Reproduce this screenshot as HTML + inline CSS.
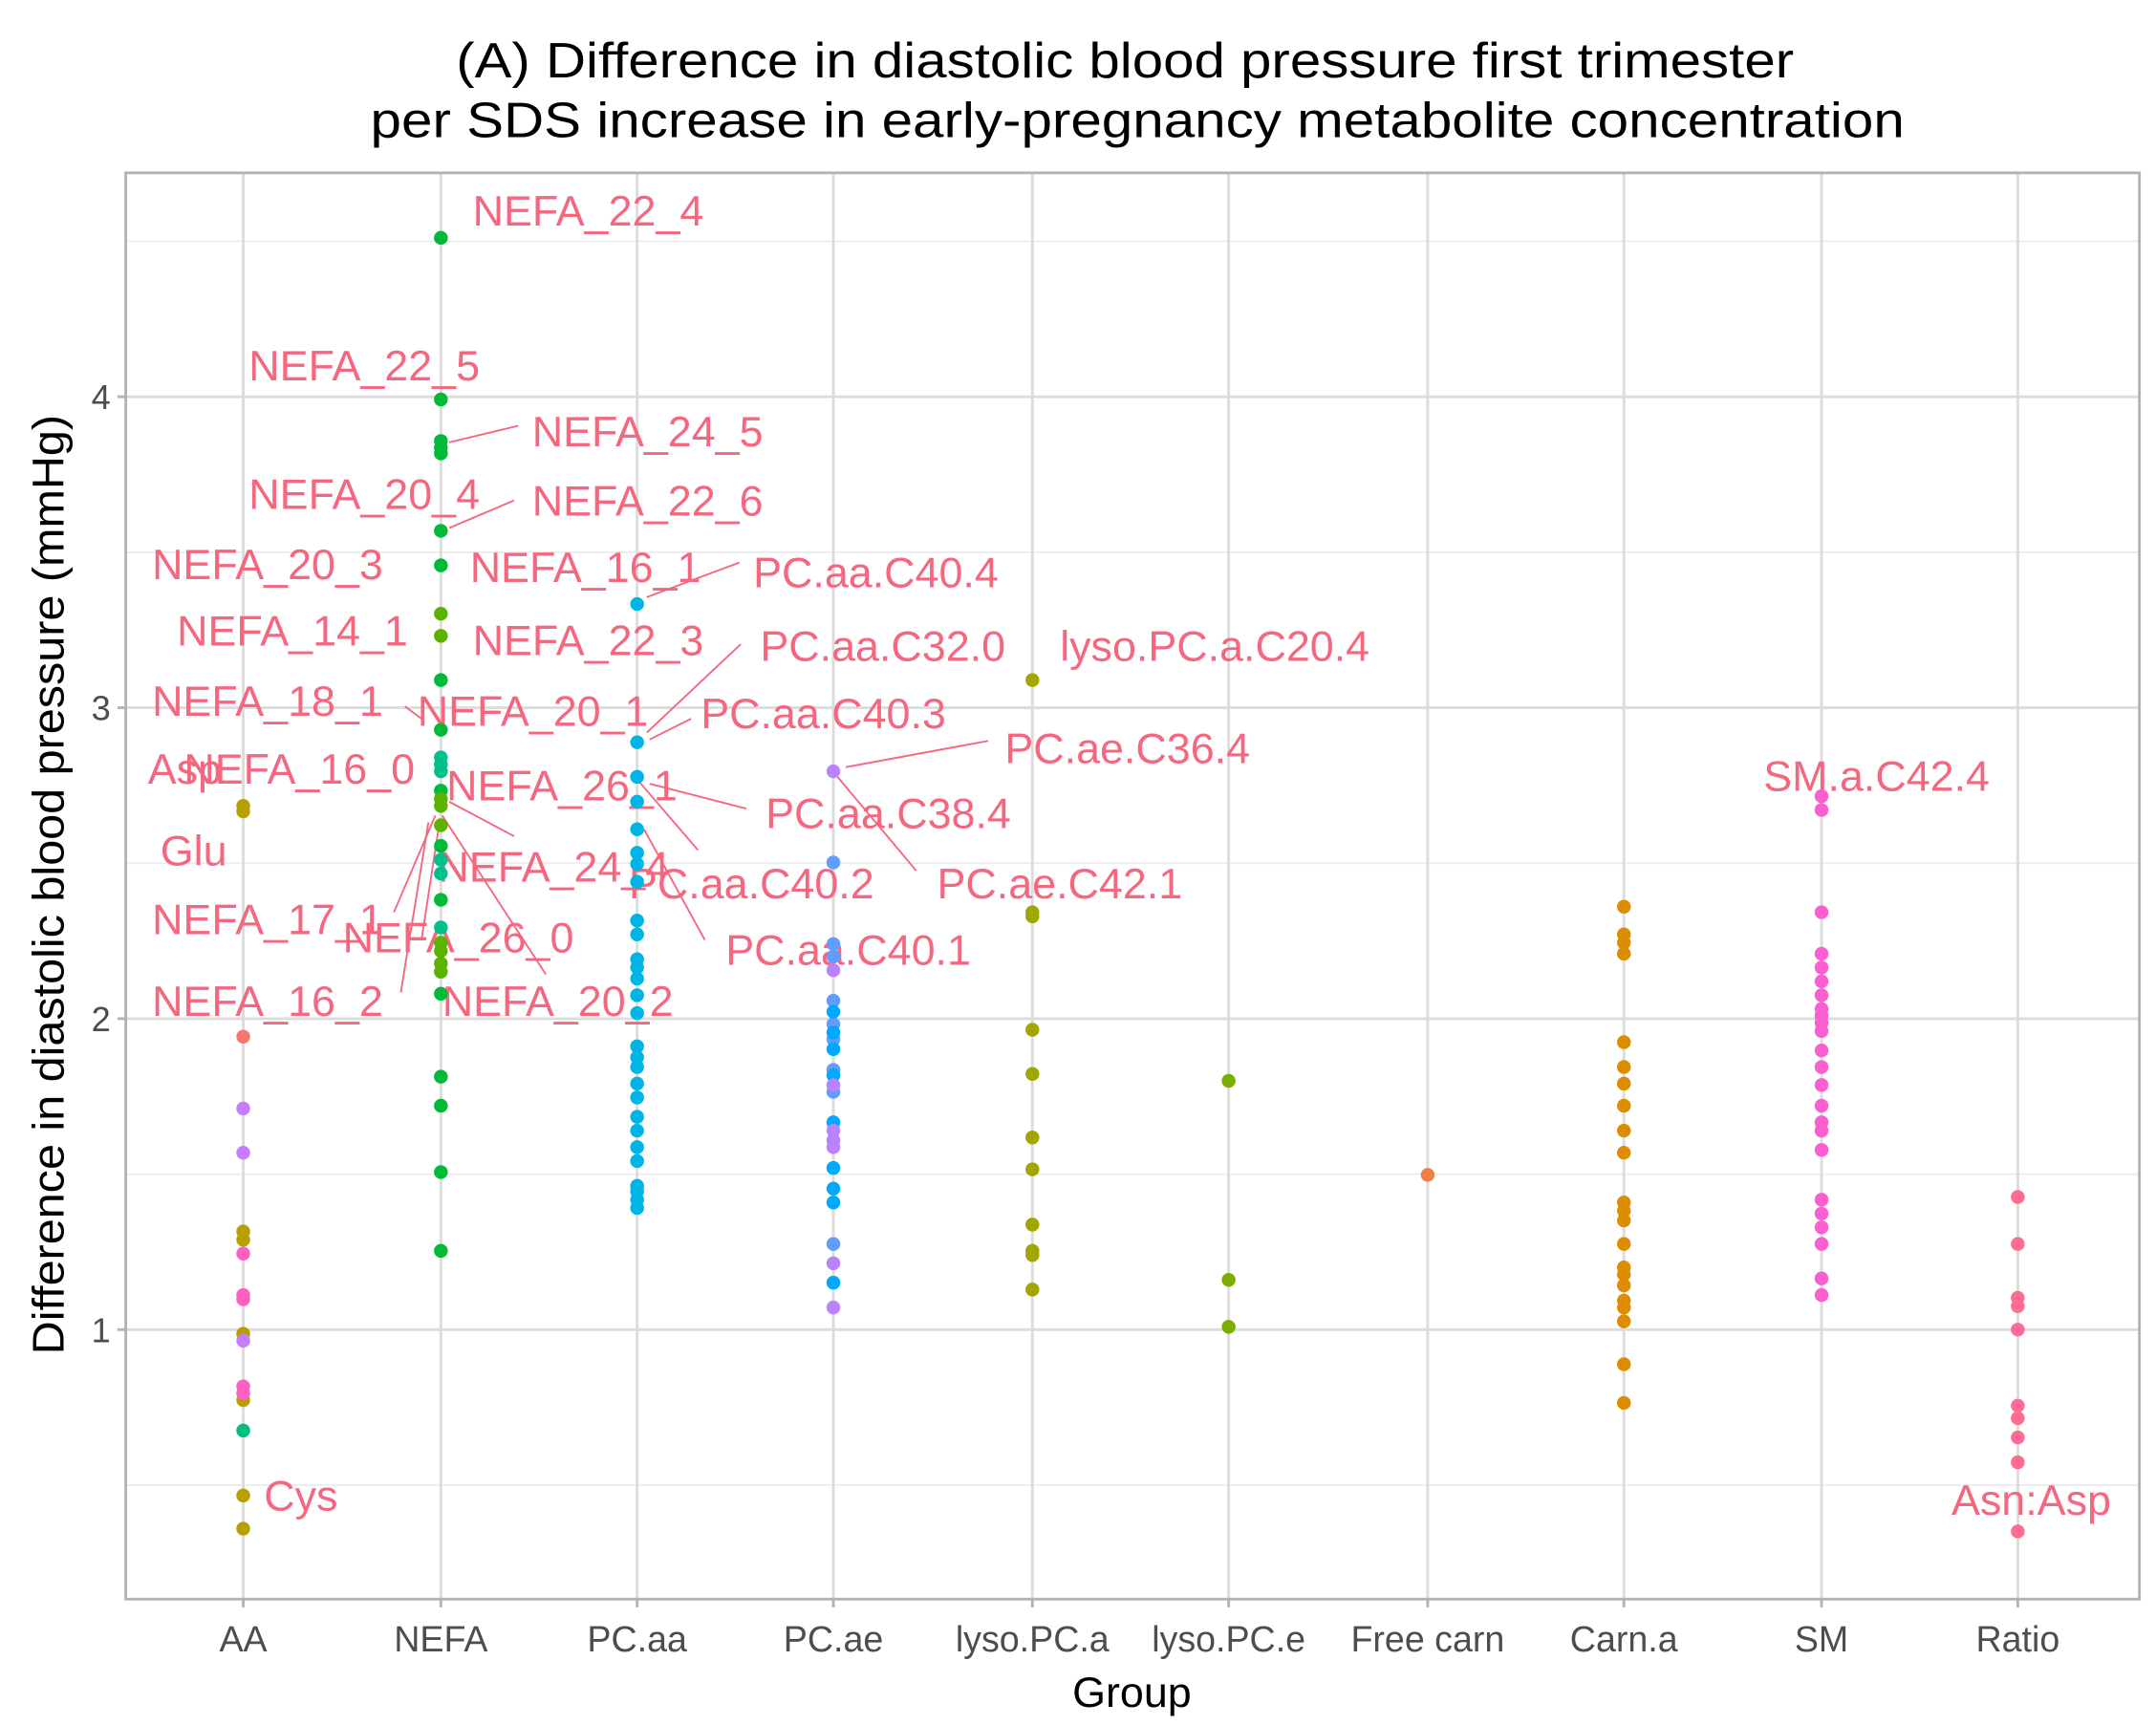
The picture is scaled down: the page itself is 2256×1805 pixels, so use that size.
<!DOCTYPE html>
<html><head><meta charset="utf-8"><style>
html,body{margin:0;padding:0;background:#fff;}
svg{display:block;}
text{font-family:"Liberation Sans",Arial,sans-serif;}
</style></head><body>
<svg width="2256" height="1805" viewBox="0 0 1560 1248" xmlns="http://www.w3.org/2000/svg">
<rect width="1560" height="1248" fill="#fff"/>
<text x="330" y="56" font-size="36" textLength="968" lengthAdjust="spacingAndGlyphs" fill="#000">(A) Difference in diastolic blood pressure first trimester</text>
<text x="268" y="99" font-size="36" textLength="1110" lengthAdjust="spacingAndGlyphs" fill="#000">per SDS increase in early-pregnancy metabolite concentration</text>
<g stroke="#ebebeb" stroke-width="1.2">
<line x1="91" x2="1548" y1="174.5" y2="174.5"/><line x1="91" x2="1548" y1="399.5" y2="399.5"/><line x1="91" x2="1548" y1="624.5" y2="624.5"/><line x1="91" x2="1548" y1="849.5" y2="849.5"/><line x1="91" x2="1548" y1="1074.5" y2="1074.5"/>
</g>
<g stroke="#dcdcdc" stroke-width="2">
<line x1="91" x2="1548" y1="287" y2="287"/><line x1="91" x2="1548" y1="512" y2="512"/><line x1="91" x2="1548" y1="737" y2="737"/><line x1="91" x2="1548" y1="962" y2="962"/>
<line y1="125" y2="1157" x1="176" x2="176"/><line y1="125" y2="1157" x1="319" x2="319"/><line y1="125" y2="1157" x1="461" x2="461"/><line y1="125" y2="1157" x1="603" x2="603"/><line y1="125" y2="1157" x1="747" x2="747"/><line y1="125" y2="1157" x1="889" x2="889"/><line y1="125" y2="1157" x1="1033" x2="1033"/><line y1="125" y2="1157" x1="1175" x2="1175"/><line y1="125" y2="1157" x1="1318" x2="1318"/><line y1="125" y2="1157" x1="1460" x2="1460"/>
</g>
<rect x="91" y="125" width="1457" height="1032" fill="none" stroke="#b3b3b3" stroke-width="2"/>
<g stroke="#b3b3b3" stroke-width="2">
<line x1="85" x2="91" y1="287" y2="287"/><line x1="85" x2="91" y1="512" y2="512"/><line x1="85" x2="91" y1="737" y2="737"/><line x1="85" x2="91" y1="962" y2="962"/>
<line y1="1157" y2="1163" x1="176" x2="176"/><line y1="1157" y2="1163" x1="319" x2="319"/><line y1="1157" y2="1163" x1="461" x2="461"/><line y1="1157" y2="1163" x1="603" x2="603"/><line y1="1157" y2="1163" x1="747" x2="747"/><line y1="1157" y2="1163" x1="889" x2="889"/><line y1="1157" y2="1163" x1="1033" x2="1033"/><line y1="1157" y2="1163" x1="1175" x2="1175"/><line y1="1157" y2="1163" x1="1318" x2="1318"/><line y1="1157" y2="1163" x1="1460" x2="1460"/>
</g>
<g font-size="25" fill="#4d4d4d" text-anchor="end">
<text x="80" y="296">4</text><text x="80" y="521">3</text><text x="80" y="746">2</text><text x="80" y="971">1</text>
</g>
<g font-size="26" fill="#4d4d4d" text-anchor="middle">
<text x="176" y="1195">AA</text><text x="319" y="1195">NEFA</text><text x="461" y="1195">PC.aa</text><text x="603" y="1195">PC.ae</text><text x="747" y="1195">lyso.PC.a</text><text x="889" y="1195">lyso.PC.e</text><text x="1033" y="1195">Free carn</text><text x="1175" y="1195">Carn.a</text><text x="1318" y="1195">SM</text><text x="1460" y="1195">Ratio</text>
</g>
<text x="819" y="1235" font-size="31" text-anchor="middle" fill="#000">Group</text>
<text transform="translate(46,640) rotate(-90)" font-size="32" text-anchor="middle" textLength="680" lengthAdjust="spacingAndGlyphs" fill="#000">Difference in diastolic blood pressure (mmHg)</text>

<g stroke="#F5677F" stroke-width="1.3" fill="none">
<line x1="325" y1="320" x2="375" y2="308"/>
<line x1="325" y1="382" x2="372" y2="362"/>
<line x1="468" y1="432" x2="535" y2="407"/>
<line x1="468" y1="530" x2="536" y2="466"/>
<line x1="293" y1="511" x2="305" y2="520"/>
<line x1="470" y1="535" x2="500" y2="520"/>
<line x1="612" y1="555" x2="715" y2="536"/>
<line x1="470" y1="567" x2="540" y2="585"/>
<line x1="606" y1="562" x2="663" y2="630"/>
<line x1="466" y1="600" x2="510" y2="680"/>
<line x1="462" y1="565" x2="505" y2="615"/>
<line x1="325" y1="580" x2="372" y2="605"/>
<line x1="320" y1="590" x2="395" y2="705"/>
<line x1="315" y1="590" x2="285" y2="660"/>
<line x1="310" y1="595" x2="290" y2="718"/>
<line x1="318" y1="595" x2="305" y2="680"/>
</g>

<g font-size="31" fill="#F5677F">
<text x="342" y="163">NEFA_22_4</text>
<text x="180" y="275">NEFA_22_5</text>
<text x="385" y="323">NEFA_24_5</text>
<text x="180" y="368">NEFA_20_4</text>
<text x="385" y="373">NEFA_22_6</text>
<text x="110" y="419">NEFA_20_3</text>
<text x="340" y="421">NEFA_16_1</text>
<text x="545" y="425">PC.aa.C40.4</text>
<text x="128" y="467">NEFA_14_1</text>
<text x="342" y="474">NEFA_22_3</text>
<text x="550" y="478">PC.aa.C32.0</text>
<text x="767" y="478">lyso.PC.a.C20.4</text>
<text x="110" y="518">NEFA_18_1</text>
<text x="302" y="525">NEFA_20_1</text>
<text x="507" y="527">PC.aa.C40.3</text>
<text x="727" y="552">PC.ae.C36.4</text>
<text x="107" y="567">Asp</text>
<text x="133" y="567">NEFA_16_0</text>
<text x="323" y="579">NEFA_26_1</text>
<text x="554" y="599">PC.aa.C38.4</text>
<text x="1276" y="572">SM.a.C42.4</text>
<text x="116" y="626">Glu</text>
<text x="317" y="638">NEFA_24_4</text>
<text x="455" y="650">PC.aa.C40.2</text>
<text x="678" y="650">PC.ae.C42.1</text>
<text x="110" y="676">NEFA_17_1</text>
<text x="248" y="689">NEFA_26_0</text>
<text x="525" y="698">PC.aa.C40.1</text>
<text x="110" y="735">NEFA_16_2</text>
<text x="320" y="735">NEFA_20_2</text>
<text x="191" y="1093">Cys</text>
<text x="1412" y="1096">Asn:Asp</text>
</g>
<g>
<g fill="#B79F00"><circle cx="176" cy="583" r="5"/><circle cx="176" cy="587" r="5"/><circle cx="176" cy="891" r="5"/><circle cx="176" cy="897" r="5"/><circle cx="176" cy="965" r="5"/><circle cx="176" cy="1013" r="5"/><circle cx="176" cy="1082" r="5"/><circle cx="176" cy="1106" r="5"/></g>
<circle cx="176" cy="750" r="5" fill="#F8766D"/>
<g fill="#C77CFF"><circle cx="176" cy="802" r="5"/><circle cx="176" cy="834" r="5"/><circle cx="176" cy="970" r="5"/></g>
<g fill="#FF61C3"><circle cx="176" cy="907" r="5"/><circle cx="176" cy="937" r="5"/><circle cx="176" cy="940" r="5"/><circle cx="176" cy="1003" r="5"/><circle cx="176" cy="1008" r="5"/></g>
<circle cx="176" cy="1035" r="5" fill="#00BF7D"/>
<g fill="#00BA38">
<circle cx="319" cy="172" r="5"/><circle cx="319" cy="289" r="5"/><circle cx="319" cy="319" r="5"/><circle cx="319" cy="324" r="5"/><circle cx="319" cy="328" r="5"/><circle cx="319" cy="384" r="5"/><circle cx="319" cy="409" r="5"/><circle cx="319" cy="492" r="5"/><circle cx="319" cy="528" r="5"/><circle cx="319" cy="572" r="5"/><circle cx="319" cy="612" r="5"/><circle cx="319" cy="651" r="5"/><circle cx="319" cy="719" r="5"/><circle cx="319" cy="779" r="5"/><circle cx="319" cy="800" r="5"/><circle cx="319" cy="848" r="5"/><circle cx="319" cy="905" r="5"/></g>
<g fill="#00C08B"><circle cx="319" cy="548" r="5"/><circle cx="319" cy="553" r="5"/><circle cx="319" cy="558" r="5"/><circle cx="319" cy="622" r="5"/><circle cx="319" cy="632" r="5"/><circle cx="319" cy="671" r="5"/></g>
<g fill="#5BB300"><circle cx="319" cy="444" r="5"/><circle cx="319" cy="460" r="5"/><circle cx="319" cy="578" r="5"/><circle cx="319" cy="583" r="5"/><circle cx="319" cy="597" r="5"/><circle cx="319" cy="682" r="5"/><circle cx="319" cy="688" r="5"/><circle cx="319" cy="697" r="5"/><circle cx="319" cy="703" r="5"/></g>
<g fill="#00B4E5">
<circle cx="461" cy="437" r="5"/><circle cx="461" cy="537" r="5"/><circle cx="461" cy="562" r="5"/><circle cx="461" cy="580" r="5"/><circle cx="461" cy="600" r="5"/><circle cx="461" cy="617" r="5"/><circle cx="461" cy="625" r="5"/><circle cx="461" cy="638" r="5"/><circle cx="461" cy="666" r="5"/><circle cx="461" cy="676" r="5"/><circle cx="461" cy="694" r="5"/><circle cx="461" cy="700" r="5"/><circle cx="461" cy="708" r="5"/><circle cx="461" cy="720" r="5"/><circle cx="461" cy="733" r="5"/><circle cx="461" cy="757" r="5"/><circle cx="461" cy="765" r="5"/><circle cx="461" cy="772" r="5"/><circle cx="461" cy="784" r="5"/><circle cx="461" cy="794" r="5"/><circle cx="461" cy="808" r="5"/><circle cx="461" cy="818" r="5"/><circle cx="461" cy="830" r="5"/><circle cx="461" cy="840" r="5"/><circle cx="461" cy="858" r="5"/><circle cx="461" cy="862" r="5"/><circle cx="461" cy="868" r="5"/><circle cx="461" cy="874" r="5"/></g>
<g fill="#619CFF"><circle cx="603" cy="624" r="5"/><circle cx="603" cy="683" r="5"/><circle cx="603" cy="692" r="5"/><circle cx="603" cy="724" r="5"/><circle cx="603" cy="741" r="5"/><circle cx="603" cy="752" r="5"/><circle cx="603" cy="774" r="5"/><circle cx="603" cy="790" r="5"/><circle cx="603" cy="900" r="5"/></g>
<g fill="#00A9FF"><circle cx="603" cy="732" r="5"/><circle cx="603" cy="747" r="5"/><circle cx="603" cy="759" r="5"/><circle cx="603" cy="778" r="5"/><circle cx="603" cy="812" r="5"/><circle cx="603" cy="845" r="5"/><circle cx="603" cy="860" r="5"/><circle cx="603" cy="870" r="5"/><circle cx="603" cy="928" r="5"/></g>
<g fill="#B983FF"><circle cx="603" cy="558" r="5"/><circle cx="603" cy="702" r="5"/><circle cx="603" cy="785" r="5"/><circle cx="603" cy="818" r="5"/><circle cx="603" cy="825" r="5"/><circle cx="603" cy="830" r="5"/><circle cx="603" cy="914" r="5"/><circle cx="603" cy="946" r="5"/></g>
<g fill="#9FA700"><circle cx="747" cy="492" r="5"/><circle cx="747" cy="660" r="5"/><circle cx="747" cy="663" r="5"/><circle cx="747" cy="745" r="5"/><circle cx="747" cy="777" r="5"/><circle cx="747" cy="823" r="5"/><circle cx="747" cy="846" r="5"/><circle cx="747" cy="886" r="5"/><circle cx="747" cy="905" r="5"/><circle cx="747" cy="908" r="5"/><circle cx="747" cy="933" r="5"/></g>
<g fill="#7CAE00"><circle cx="889" cy="782" r="5"/><circle cx="889" cy="926" r="5"/><circle cx="889" cy="960" r="5"/></g>
<circle cx="1033" cy="850" r="5" fill="#EF7F48"/>
<g fill="#DE8C00"><circle cx="1175" cy="656" r="5"/><circle cx="1175" cy="676" r="5"/><circle cx="1175" cy="682" r="5"/><circle cx="1175" cy="690" r="5"/><circle cx="1175" cy="754" r="5"/><circle cx="1175" cy="772" r="5"/><circle cx="1175" cy="784" r="5"/><circle cx="1175" cy="800" r="5"/><circle cx="1175" cy="818" r="5"/><circle cx="1175" cy="834" r="5"/><circle cx="1175" cy="870" r="5"/><circle cx="1175" cy="876" r="5"/><circle cx="1175" cy="883" r="5"/><circle cx="1175" cy="900" r="5"/><circle cx="1175" cy="917" r="5"/><circle cx="1175" cy="922" r="5"/><circle cx="1175" cy="930" r="5"/><circle cx="1175" cy="941" r="5"/><circle cx="1175" cy="946" r="5"/><circle cx="1175" cy="956" r="5"/><circle cx="1175" cy="987" r="5"/><circle cx="1175" cy="1015" r="5"/></g>
<g fill="#F95FD0"><circle cx="1318" cy="576" r="5"/><circle cx="1318" cy="586" r="5"/><circle cx="1318" cy="660" r="5"/><circle cx="1318" cy="690" r="5"/><circle cx="1318" cy="700" r="5"/><circle cx="1318" cy="710" r="5"/><circle cx="1318" cy="720" r="5"/><circle cx="1318" cy="730" r="5"/><circle cx="1318" cy="735" r="5"/><circle cx="1318" cy="740" r="5"/><circle cx="1318" cy="746" r="5"/><circle cx="1318" cy="760" r="5"/><circle cx="1318" cy="772" r="5"/><circle cx="1318" cy="785" r="5"/><circle cx="1318" cy="800" r="5"/><circle cx="1318" cy="812" r="5"/><circle cx="1318" cy="818" r="5"/><circle cx="1318" cy="832" r="5"/><circle cx="1318" cy="868" r="5"/><circle cx="1318" cy="878" r="5"/><circle cx="1318" cy="888" r="5"/><circle cx="1318" cy="900" r="5"/><circle cx="1318" cy="925" r="5"/><circle cx="1318" cy="937" r="5"/></g>
<g fill="#FF6C91"><circle cx="1460" cy="866" r="5"/><circle cx="1460" cy="900" r="5"/><circle cx="1460" cy="939" r="5"/><circle cx="1460" cy="945" r="5"/><circle cx="1460" cy="962" r="5"/><circle cx="1460" cy="1017" r="5"/><circle cx="1460" cy="1026" r="5"/><circle cx="1460" cy="1040" r="5"/><circle cx="1460" cy="1058" r="5"/><circle cx="1460" cy="1108" r="5"/></g>
</g>
</svg>
</body></html>
